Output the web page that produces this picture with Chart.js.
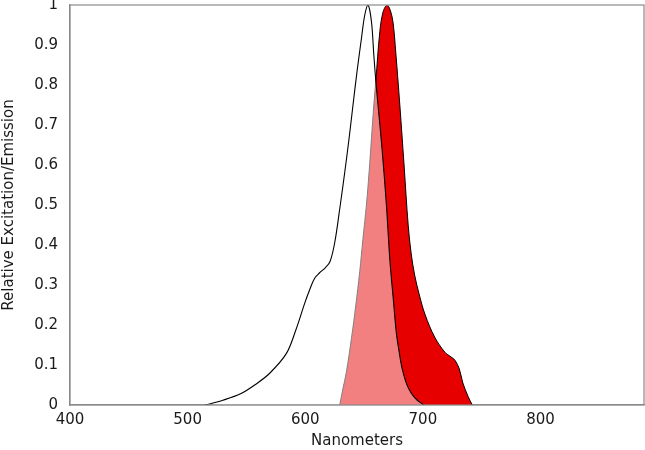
<!DOCTYPE html>
<html>
<head>
<meta charset="utf-8">
<script src="https://cdn.jsdelivr.net/npm/chart.js@4"></script>
<style>
  html, body { margin: 0; padding: 0; background: #fff; }
  #wrap { width: 645px; height: 450px; }
</style>
</head>
<body>
<div id="wrap"><canvas id="spectra"></canvas></div>
<script>
// excitation spectrum (black outline, see-through white fill)
const exWavelengths = [515, 530, 545, 558, 570, 584, 592, 599.5, 604, 608, 612, 617, 621, 625, 629.3, 633.5, 637.2, 640.6, 644, 647.8, 650.6, 653.4, 656.3, 658.3, 660, 662.5, 665.3, 669, 672, 675, 677.5, 680, 682, 686, 690, 695, 701];
const exValues      = [0, 0.012, 0.028, 0.052, 0.08, 0.129, 0.1875, 0.254, 0.29, 0.317, 0.33, 0.343, 0.358, 0.405, 0.49, 0.58, 0.665, 0.75, 0.833, 0.917, 0.975, 1.0, 0.958, 0.875, 0.81, 0.73, 0.64, 0.5, 0.36, 0.26, 0.179, 0.13, 0.096, 0.054, 0.03, 0.0125, 0];

// emission spectrum (red fill)
const emWavelengths = [629.3, 632, 635, 639.3, 643, 646.3, 649.1, 652, 654.3, 656.3, 658.3, 660, 663.4, 666.2, 669.6, 672.5, 674.7, 677, 680.4, 684, 687.5, 690, 693, 697, 702, 710, 718.7, 724, 727.3, 731, 734, 738.5, 742];
const emValues      = [0, 0.04, 0.083, 0.167, 0.25, 0.333, 0.417, 0.5, 0.583, 0.667, 0.75, 0.81, 0.933, 0.983, 1.0, 0.985, 0.955, 0.88, 0.75, 0.6, 0.45, 0.38, 0.325, 0.275, 0.225, 0.17, 0.132, 0.12, 0.112, 0.09, 0.055, 0.021, 0];

const xTicks = [400, 500, 600, 700, 800];
const yTicks = [0, 0.1, 0.2, 0.3, 0.4, 0.5, 0.6, 0.7, 0.8, 0.9, 1];

const toPoints = (xs, ys) => xs.map((x, i) => ({ x: x, y: ys[i] }));

// grey frame round the plot area
const frame = {
  id: 'frame',
  afterDraw(chart) {
    const a = chart.chartArea, ctx = chart.ctx;
    ctx.save();
    ctx.strokeStyle = '#8a8a8a';
    ctx.lineWidth = 1.2;
    ctx.strokeRect(a.left, a.top, a.right - a.left, a.bottom - a.top);
    ctx.restore();
  }
};

Chart.defaults.font.family = "'DejaVu Sans', sans-serif";
Chart.defaults.color = '#1a1a1a';

new Chart(document.getElementById('spectra'), {
  type: 'scatter',
  data: {
    datasets: [
      {
        label: 'Excitation',
        data: toPoints(exWavelengths, exValues),
        showLine: true,
        borderColor: '#000',
        borderWidth: 1.1,
        backgroundColor: 'rgba(255,255,255,0.5)',
        fill: 'origin',
        pointRadius: 0,
        tension: 0.35,
        order: 1
      },
      {
        label: 'Emission',
        data: toPoints(emWavelengths, emValues),
        showLine: true,
        borderColor: '#000',
        borderWidth: 1,
        backgroundColor: '#e60000',
        fill: 'origin',
        pointRadius: 0,
        tension: 0.35,
        order: 2
      }
    ]
  },
  options: {
    responsive: true,
    maintainAspectRatio: false,
    animation: false,
    layout: { padding: { top: 5, right: 1, left: 0, bottom: 0 } },
    plugins: {
      legend: { display: false },
      tooltip: { enabled: false }
    },
    scales: {
      x: {
        type: 'linear',
        min: 400,
        max: 888,
        afterBuildTicks: axis => { axis.ticks = xTicks.map(v => ({ value: v })); },
        afterFit: axis => { axis.height = 45; axis.paddingLeft = 0; axis.paddingRight = 0; },
        grid: { display: false, drawTicks: true, tickLength: 4, tickColor: '#777' },
        border: { color: '#8a8a8a', width: 1.2 },
        ticks: { font: { size: 15 }, padding: 2, maxRotation: 0 },
        title: { display: true, text: 'Nanometers', font: { size: 15 }, padding: { top: 6, bottom: 0 } }
      },
      y: {
        min: 0,
        max: 1,
        afterBuildTicks: axis => { axis.ticks = yTicks.map(v => ({ value: v })); },
        afterFit: axis => { axis.width = 70; axis.paddingTop = 0; axis.paddingBottom = 0; },
        grid: { display: false, drawTicks: false },
        border: { color: '#8a8a8a', width: 1.2 },
        ticks: { font: { size: 15 }, padding: 12, callback: v => String(+v.toFixed(1)) },
        title: { display: true, text: 'Relative Excitation/Emission', font: { size: 15 }, padding: { top: 0, bottom: 6 } }
      }
    }
  },
  plugins: [frame]
});
</script>
</body>
</html>
